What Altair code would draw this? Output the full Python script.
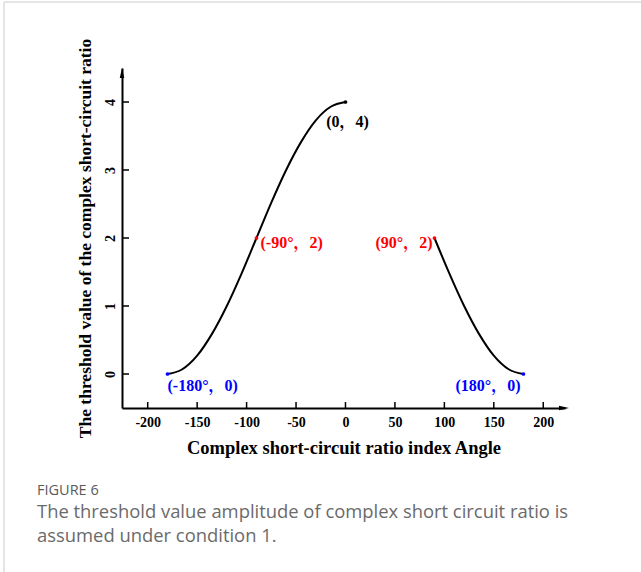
import altair as alt
import pandas as pd

# Threshold amplitude of the complex short-circuit ratio vs. index angle (deg)
left_angle = [-180, -165, -150, -135, -120, -105, -90, -75, -60, -45, -30, -15, 0]
left_value = [0.0, 0.07, 0.27, 0.59, 1.0, 1.48, 2.0, 2.52, 3.0, 3.41, 3.73, 3.93, 4.0]
right_angle = [90, 105, 120, 135, 150, 165, 180]
right_value = [2.0, 1.48, 1.0, 0.59, 0.27, 0.07, 0.0]

x_ticks = [-200, -150, -100, -50, 0, 50, 100, 150, 200]
y_ticks = [0, 1, 2, 3, 4]

key_angle = [-180, -90, 0, 90, 180]
key_value = [0, 2, 4, 2, 0]
key_text = ["(-180°，0)", "(-90°，2)", "(0，4)", "(90°，2)", "(180°，0)"]
key_color = ["#0000ff", "#ff0000", "#000000", "#ff0000", "#0000ff"]

caption_head = "FIGURE 6"
caption_lines = ["The threshold value amplitude of complex short circuit ratio is",
                 "assumed under condition 1."]

# label placement per key point: (align, dx, dy)
placement = [("left", 0, 12), ("left", 4, 5), ("center", 2, 20), ("right", -2, 5), ("right", -3, 12)]

W, H = 443, 340
SERIF = "Liberation Serif"
LABEL_FONT = "Liberation Serif, Noto Serif CJK SC, Noto Sans CJK SC"

curve = pd.concat([
    pd.DataFrame({"angle": left_angle, "value": left_value, "seg": "a"}),
    pd.DataFrame({"angle": right_angle, "value": right_value, "seg": "b"}),
])
keys = pd.DataFrame({"angle": key_angle, "value": key_value, "text": key_text, "color": key_color})
xt = pd.DataFrame({"t": x_ticks})
yt = pd.DataFrame({"t": y_ticks})
one = yt.head(1)

xs = alt.Scale(domain=[-226, 222], nice=False, zero=False)
ys = alt.Scale(domain=[-0.5, 4.5], nice=False, zero=False)

x_axis = alt.Axis(values=x_ticks, ticks=False, grid=False, domainColor="black", domainWidth=2,
                  labelExpr="'' + datum.value",
                  labelFont=SERIF, labelFontWeight="bold", labelFontSize=14, labelColor="black",
                  labelPadding=7, title="Complex short-circuit ratio index Angle",
                  titleFont=SERIF, titleFontWeight="bold", titleFontSize=18.5, titleColor="black",
                  titlePadding=9)
y_axis = alt.Axis(values=y_ticks, ticks=False, grid=False, domainColor="black", domainWidth=2,
                  labelExpr="'' + datum.value",
                  labelFont=SERIF, labelFontWeight="bold", labelFontSize=14, labelColor="black",
                  labelAngle=270, labelAlign="center", labelBaseline="bottom", labelPadding=5,
                  title="The threshold value of the complex short-circuit ratio",
                  titleFont=SERIF, titleFontWeight="bold", titleFontSize=17.5, titleColor="black",
                  titlePadding=9)

line = alt.Chart(curve).mark_line(color="black", strokeWidth=2, interpolate="monotone").encode(
    x=alt.X("angle:Q", scale=xs, axis=x_axis),
    y=alt.Y("value:Q", scale=ys, axis=y_axis),
    detail="seg:N",
)

dots = alt.Chart(keys).mark_circle(size=14, opacity=1).encode(
    x=alt.X("angle:Q", scale=xs), y=alt.Y("value:Q", scale=ys),
    color=alt.Color("color:N", scale=None),
)

labels = []
for i, (al, dx, dy) in enumerate(placement):
    labels.append(
        alt.Chart(keys.iloc[[i]]).mark_text(align=al, baseline="middle", dx=dx, dy=dy,
                                              font=LABEL_FONT, fontWeight="bold", fontSize=16).encode(
            x=alt.X("angle:Q", scale=xs), y=alt.Y("value:Q", scale=ys),
            text="text:N", color=alt.Color("color:N", scale=None),
        )
    )

# inward tick marks
x_tick_marks = alt.Chart(xt).mark_rule(color="black", strokeWidth=1.5).encode(
    x=alt.X("t:Q", scale=xs), y=alt.value(H - 6), y2=alt.value(H))
y_tick_marks = alt.Chart(yt).mark_rule(color="black", strokeWidth=1.5).encode(
    y=alt.Y("t:Q", scale=ys), x=alt.value(0), x2=alt.value(7))

# arrow heads at the ends of both axes
y_arrow = alt.Chart(one).mark_point(shape="M0,-1L0.45,1L-0.45,1Z", filled=True, size=100,
                                    color="black", opacity=1).encode(
    x=alt.value(0), y=alt.value(5))
x_arrow = alt.Chart(one).mark_point(shape="M1,0L-1,-0.45L-1,0.45Z", filled=True, size=100,
                                    color="black", opacity=1).encode(
    x=alt.value(W - 1), y=alt.value(H))

# light frame around the figure
frame_top = alt.Chart(one).mark_rule(color="#dcdcdc", strokeWidth=1.5).encode(
    x=alt.value(-118), x2=alt.value(641 - 122), y=alt.value(-66))
frame_left = alt.Chart(one).mark_rule(color="#dcdcdc", strokeWidth=1.5).encode(
    x=alt.value(-118), y=alt.value(-66), y2=alt.value(572 - 68))

# figure caption below the chart
cap_head = alt.Chart(pd.DataFrame({"t": [caption_head]})).mark_text(
    align="left", baseline="middle", font="Open Sans", fontSize=14.5, color="#5a5a5a").encode(
    text="t:N", x=alt.value(-85), y=alt.value(423))
cap_body = [
    alt.Chart(pd.DataFrame({"t": [s]})).mark_text(
        align="left", baseline="middle", font="Open Sans", fontSize=18.4, color="#6a6a6a").encode(
        text="t:N", x=alt.value(-85), y=alt.value(yy))
    for s, yy in zip(caption_lines, [444, 468])
]

chart = alt.layer(
    frame_top, frame_left, line, x_tick_marks, y_tick_marks, x_arrow, y_arrow, dots, *labels,
    cap_head, *cap_body
).properties(
    width=W, height=H,
    autosize=alt.AutoSizeParams(type="none"),
    padding={"left": 122, "top": 68, "right": 641 - 122 - W, "bottom": 572 - 68 - H},
).configure(background="white", view=alt.ViewConfig(stroke=None, strokeWidth=0))

chart.save("out.html", embed_options={"renderer": "svg", "actions": False})
